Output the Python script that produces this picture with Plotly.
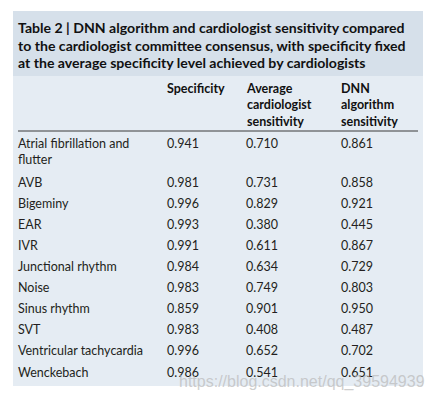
import plotly.graph_objects as go

# ---- data ----
title_lines = [
    "Table 2 | DNN algorithm and cardiologist sensitivity compared",
    "to the cardiologist committee consensus, with specificity fixed",
    "at the average specificity level achieved by cardiologists",
]
column_headers = [
    "Specificity",
    "Average<br>cardiologist<br>sensitivity",
    "DNN<br>algorithm<br>sensitivity",
]
rhythm_classes = [
    "Atrial fibrillation and<br>flutter",
    "AVB",
    "Bigeminy",
    "EAR",
    "IVR",
    "Junctional rhythm",
    "Noise",
    "Sinus rhythm",
    "SVT",
    "Ventricular tachycardia",
    "Wenckebach",
]
specificity = [0.941, 0.981, 0.996, 0.993, 0.991, 0.984, 0.983, 0.859, 0.983, 0.996, 0.986]
cardiologist_sensitivity = [0.710, 0.731, 0.829, 0.380, 0.611, 0.634, 0.749, 0.901, 0.408, 0.652, 0.541]
dnn_sensitivity = [0.861, 0.858, 0.921, 0.445, 0.867, 0.729, 0.803, 0.950, 0.487, 0.702, 0.651]
watermark = "https://blog.csdn.net/qq_39594939"

# ---- layout constants (pixel-like coordinate system) ----
W, H = 435, 401
PANEL_L, PANEL_R = 13, 423
PANEL_T, TITLE_B, PANEL_B = 11, 76, 386
RULE_Y = 131
COL_X = [18, 167, 246, 341]
FONT = "Lato, 'Open Sans', sans-serif"
TITLE_BG = "#d6e0ea"
BODY_BG = "#e5ecf3"
TEXT = "#231f20"

fig = go.Figure()

shapes = [
    dict(type="rect", x0=PANEL_L, x1=PANEL_R, y0=PANEL_T, y1=TITLE_B,
         fillcolor=TITLE_BG, line_width=0, layer="below"),
    dict(type="rect", x0=PANEL_L, x1=PANEL_R, y0=TITLE_B, y1=PANEL_B,
         fillcolor=BODY_BG, line_width=0, layer="below"),
    dict(type="line", x0=18, x1=418, y0=RULE_Y, y1=RULE_Y,
         line=dict(color="#3a3a3a", width=1)),
]

ann = []
for k, line in enumerate(title_lines):
    ann.append(dict(x=COL_X[0] - 2, y=PANEL_T + 6 + k * 17.5, text="<b>" + line + "</b>",
                    xanchor="left", yanchor="top", align="left", showarrow=False,
                    font=dict(family=FONT, size=14.1, color="#111")))
for j, h in enumerate(column_headers):
    ann.append(dict(x=COL_X[j + 1] - 2, y=TITLE_B + 3, text="<b>" + h + "</b>",
                    xanchor="left", yanchor="top", align="left", showarrow=False,
                    font=dict(family=FONT, size=12.5, color="#111")))

ROW_H, EXTRA = 21.05, 18
y = RULE_Y + 3
for i, name in enumerate(rhythm_classes):
    vals = [specificity[i], cardiologist_sensitivity[i], dnn_sensitivity[i]]
    cells = [name] + [f"{v:.3f}" for v in vals]
    for j, c in enumerate(cells):
        ann.append(dict(x=COL_X[j] - 2, y=y, text=c, xanchor="left", yanchor="top",
                        align="left", showarrow=False,
                        font=dict(family=FONT, size=12.5, color=TEXT)))
    y += ROW_H + EXTRA * name.count("<br>")

ann.append(dict(x=427, y=381.5, text=watermark, xanchor="right", yanchor="middle",
                showarrow=False,
                font=dict(family="Liberation Sans, Arial, sans-serif", size=16,
                          color="rgba(185,185,185,0.7)")))

fig.update_layout(
    width=W, height=H, margin=dict(l=0, r=0, t=0, b=0),
    paper_bgcolor="white", plot_bgcolor="white",
    xaxis=dict(range=[0, W], visible=False, fixedrange=True),
    yaxis=dict(range=[H, 0], visible=False, fixedrange=True),
    shapes=shapes, annotations=ann, showlegend=False,
)
fig.write_html("out.html", config={"displayModeBar": False},
               post_script="document.body.style.margin='0';document.body.style.overflow='hidden';")
